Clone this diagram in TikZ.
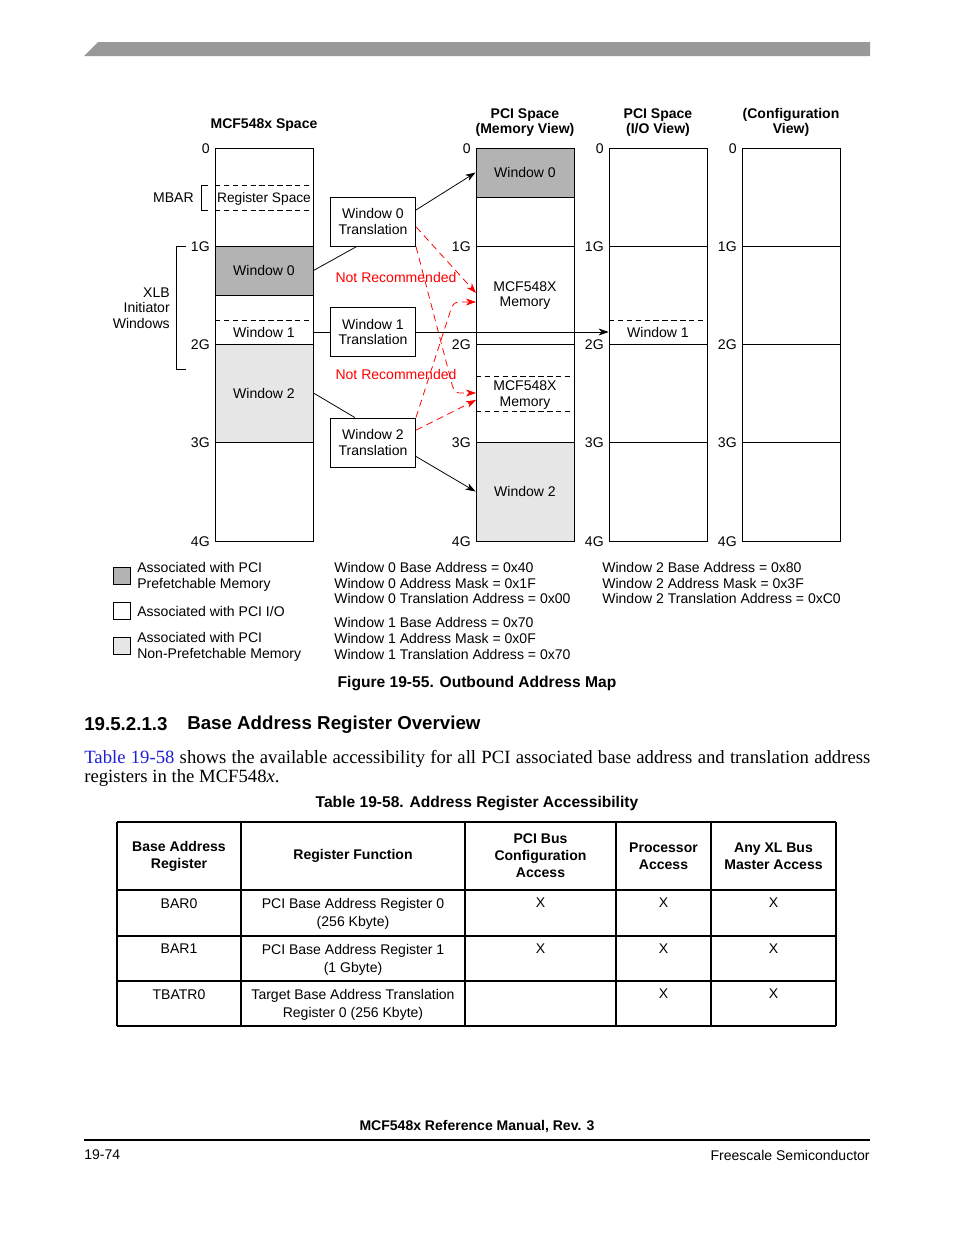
\documentclass[tikz,border=0pt]{standalone}
\usepackage{fontspec}
\setmainfont{Liberation Serif}
\setsansfont{Liberation Sans}
\usepackage{xcolor}
\usepackage{tikz}
\usetikzlibrary{arrows.meta, positioning, calc}
\definecolor{fsgray}{HTML}{999999}
\definecolor{pfmem}{HTML}{B3B3B3}
\definecolor{npfmem}{HTML}{E6E6E6}
\definecolor{nrred}{HTML}{FF0000}
\definecolor{xrefblue}{HTML}{1F1FD6}
\newcommand{\pxu}{0.6415pt}

\begin{document}
\begin{tikzpicture}[x=0.6415pt, y=-0.6415pt,
  every node/.style={inner sep=0pt},
  dtext/.style={font=\fontsize{9}{10}\selectfont\sffamily, align=center},
  dhead/.style={font=\fontsize{9}{9.6}\selectfont\sffamily\bfseries, align=center},
  region/.style={draw, line width=0.6pt, minimum width=98*\pxu, dtext},
  xlat/.style={draw, line width=0.6pt, minimum width=85*\pxu, minimum height=49*\pxu, dtext},
  divline/.style={line width=0.6pt},
  dashdiv/.style={line width=0.6pt, dash pattern=on 3.5pt off 2.2pt},
  maparrow/.style={line width=0.5pt, -{Stealth[length=6.5pt, width=4.5pt, inset=2pt]}},
  nrarrow/.style={nrred, line width=0.5pt, dash pattern=on 4.5pt off 3pt, rounded corners=1.5pt,
    -{Stealth[length=6.5pt, width=4.5pt, inset=2pt]}},
  tabrule/.style={line width=0.8pt},
  tabhead/.style={font=\fontsize{9}{10.9}\selectfont\sffamily\bfseries, align=center},
  tabcell/.style={font=\fontsize{9}{11.4}\selectfont\sffamily, align=center, anchor=north}]
\fill[white] (0,0) rectangle (954,1235);
\useasboundingbox (0,0) rectangle (954,1235);

% page header bar
\fill[fsgray] (84,56) -- (98,42) -- (870,42) -- (870,56) -- cycle;

% column headings
\node[dhead] (hxlb) at (264,125) {MCF548x Space};
\node[dhead] (hmem) at (525,122.5) {PCI Space\\(Memory View)};
\node[dhead] (hio) at (658,122.5) {PCI Space\\(I/O View)};
\node[dhead] (hcfg) at (791,122.5) {(Configuration\\View)};

% shaded windows
\node[region, fill=pfmem, minimum height=49*\pxu] (xw0) at (264,270.5) {Window 0};
\node[region, fill=npfmem, minimum height=98*\pxu] (xw2) at (264,393) {Window 2};
\node[region, fill=pfmem, minimum height=49*\pxu] (pw0) at (525,172.5) {Window 0};
\node[region, fill=npfmem, minimum height=99*\pxu] (pw2) at (525,491.5) {Window 2};

% the four address spaces
\foreach \cx in {215,476,609,742} {
  \draw[divline] (\cx,148) rectangle ++(98,393);
  \foreach \gy in {246,344,442}
    \draw[divline] (\cx,\gy) -- ++(98,0);
}
\draw[dashdiv] (215,185) -- ++(98,0);
\draw[dashdiv] (215,210) -- ++(98,0);
\draw[dashdiv] (215,320) -- ++(98,0);
\draw[dashdiv] (476,376) -- ++(98,0);
\draw[dashdiv] (476,411) -- ++(98,0);
\draw[dashdiv] (609,320) -- ++(98,0);

\node[dtext, font=\fontsize{8.8}{10}\selectfont\sffamily] (regsp) at (264,198.5) {Register Space};
\node[dtext, minimum width=98*\pxu, minimum height=24*\pxu] (xw1) at (264,332) {Window 1};
\node[dtext, minimum width=98*\pxu, minimum height=24*\pxu] (iow1) at (658,332) {Window 1};
\node[dtext] (mem1) at (525,295.5) {MCF548X\\Memory};
\node[dtext] (mem2) at (525,395) {MCF548X\\Memory};

% address marks
\foreach \cx/\cn in {210/a,471/b,604/c,737/d}
  \foreach \gy/\gl [count=\gk] in {148/0,246/1G,344/2G,442/3G,541/4G}
    \node[dtext, anchor=east] (g\cn\gk) at (\cx,\gy+0.8) {\gl};

% brackets
\draw[divline] (208,185) -| (201,210) -- (208,210);
\node[dtext, anchor=east] (mbar) at (194,198) {MBAR};
\draw[divline] (186,246) -| (176,369) -- (186,369);
\node[dtext, align=right, anchor=east] (xlbw) at (170,308) {XLB\\Initiator\\Windows};

% translation blocks
\node[xlat] (t0) at (373,221.5) {Window 0\\Translation};
\node[xlat] (t1) at (373,332) {Window 1\\Translation};
\node[xlat] (t2) at (373,442.5) {Window 2\\Translation};

\draw[line width=0.5pt] (xw0.east) -- (t0.-123);
\draw[maparrow] (t0.15) -- (pw0.west);
\draw[line width=0.5pt] (xw1.east) -- (t1.west);
\draw[maparrow] (t1.east) -- (iow1.west);
\draw[line width=0.5pt] (xw2.east) -- (t2.126);
\draw[maparrow] (t2.-18) -- (pw2.west);

% not recommended paths
\coordinate (m1a) at (476,293);
\coordinate (m1b) at (476,302);
\coordinate (m2a) at (476,393);
\coordinate (m2b) at (476,400);
\draw[nrarrow] (t0.-7) -- (m1a);
\draw[nrarrow] (t0.south east) -- (453,388) -- (457,393) -- (m2a);
\draw[nrarrow] (t2.north east) -- (452,306) -- (456,302) -- (m1b);
\draw[nrarrow] (t2.16) -- (m2b);
\node[dtext, text=nrred] (nr1) at (396,277.5) {Not Recommended};
\node[dtext, text=nrred] (nr2) at (396,374.5) {Not Recommended};

% key
\node[draw, line width=0.6pt, fill=pfmem, minimum size=17*\pxu] (key0) at (121.5,575.5) {};
\node[draw, line width=0.6pt, fill=white, minimum size=17*\pxu] (key1) at (121.5,611) {};
\node[draw, line width=0.6pt, fill=npfmem, minimum size=17*\pxu] (key2) at (121.5,645.5) {};
\node[dtext, align=left, anchor=west] (key0t) at (137,577) {Associated with PCI\\Prefetchable Memory};
\node[dtext, anchor=west] (key1t) at (137,611) {Associated with PCI I/O};
\node[dtext, align=left, anchor=west] (key2t) at (137,647) {Associated with PCI\\Non-Prefetchable Memory};

% register settings
\node[dtext, align=left, anchor=west] (w0regs) at (334,583)
  {Window 0 Base Address = 0x40\\Window 0 Address Mask = 0x1F\\Window 0 Translation Address = 0x00};
\node[dtext, align=left, anchor=west] (w1regs) at (334,638.5)
  {Window 1 Base Address = 0x70\\Window 1 Address Mask = 0x0F\\Window 1 Translation Address = 0x70};
\node[dtext, align=left, anchor=west] (w2regs) at (602,583)
  {Window 2 Base Address = 0x80\\Window 2 Address Mask = 0x3F\\Window 2 Translation Address = 0xC0};

\node[font=\fontsize{10}{12}\selectfont\sffamily\bfseries] (figcap) at (477,683.5) {Figure 19-55. Outbound Address Map};

% section text
\node[font=\fontsize{12}{14}\selectfont\sffamily\bfseries, anchor=west] (secnum) at (84,724.5) {19.5.2.1.3};
\node[font=\fontsize{12}{14}\selectfont\sffamily\bfseries, anchor=west] (sectitle) at (187,724.5) {Base Address Register Overview};
\node[font=\fontsize{12}{11.6}\selectfont\rmfamily, text width=786*\pxu, align=justify, anchor=north west] (para) at (84,750.5)
  {\textcolor{xrefblue}{Table 19-58} shows the available accessibility for all PCI associated base address and translation address registers in the MCF548\textit{x}.};

\node[font=\fontsize{10}{12}\selectfont\sffamily\bfseries] (tabcap) at (477,803) {Table 19-58. Address Register Accessibility};

% table
\foreach \tx in {117,241,465,616,711,836}
  \draw[tabrule] (\tx,822) -- (\tx,1026);
\foreach \ty in {822,890,936,981,1026}
  \draw[tabrule] (117,\ty) -- (836,\ty);
\foreach \cx/\hdtxt [count=\hc] in {179/{Base Address\\Register}, 353/{Register Function},
    540.5/{PCI Bus\\Configuration\\Access}, 663.5/{Processor\\Access}, 773.5/{Any XL Bus\\Master Access}}
  \node[tabhead] (th\hc) at (\cx,856) {\hdtxt};
\foreach \ry/\rname/\rfunc/\rpci [count=\ri] in {
    898/BAR0/{PCI Base Address Register 0\\(256 Kbyte)}/X,
    944/BAR1/{PCI Base Address Register 1\\(1 Gbyte)}/X,
    989/TBATR0/{Target Base Address Translation\\Register 0 (256 Kbyte)}/{}} {
  \node[tabcell] (tr\ri-reg) at (179,\ry) {\rname};
  \node[tabcell] (tr\ri-fn) at (353,\ry) {\rfunc};
  \node[tabcell] (tr\ri-pci) at (540.5,\ry) {\rpci};
  \node[tabcell] (tr\ri-cpu) at (663.5,\ry) {X};
  \node[tabcell] (tr\ri-xlb) at (773.5,\ry) {X};
}

% footer
\node[font=\fontsize{9}{11}\selectfont\sffamily\bfseries] (ftitle) at (477,1126.5) {MCF548x Reference Manual, Rev. 3};
\draw[line width=0.9pt] (84,1140) -- (870,1140);
\node[font=\fontsize{9}{11}\selectfont\sffamily, anchor=west] (fpage) at (84,1154.5) {19-74};
\node[font=\fontsize{9}{11}\selectfont\sffamily, anchor=east] (fco) at (870,1155) {Freescale Semiconductor};
\end{tikzpicture}
\end{document}
